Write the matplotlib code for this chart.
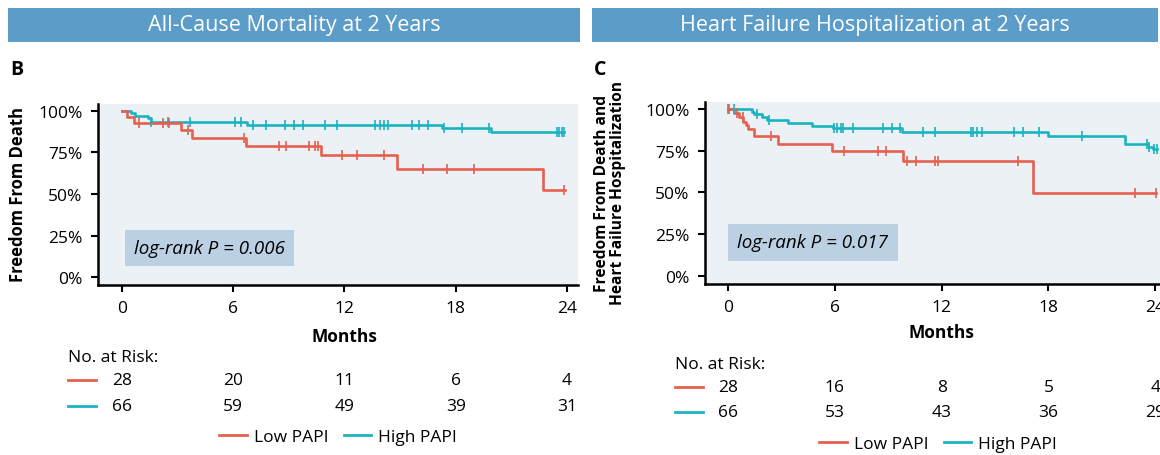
import matplotlib
matplotlib.use("Agg")
import matplotlib.pyplot as plt
import numpy as np
from matplotlib.lines import Line2D
from matplotlib.patches import Rectangle

plt.rcParams['font.family'] = ['Open Sans', 'DejaVu Sans']
plt.rcParams['font.weight'] = 'medium'

RED = '#E5604D'
TEAL = '#1AB3C2'
BG = '#ECF1F5'
BAR = '#5B9CC8'
BOX = '#BBD0E3'

# panel B: all-cause mortality
low_b_t = [0, 0.28, 0.66, 3.16, 3.77, 6.68, 10.73, 14.86, 22.71, 23.9]
low_b_s = [100, 96.4, 92.9, 88.5, 84.0, 79.2, 73.2, 65.2, 52.2, 52.2]
low_b_cens = [0.9, 2.21, 2.52, 3.54, 6.59, 8.46, 8.85, 10.07, 10.43, 10.55,
              11.85, 12.66, 14.14, 16.23, 17.53, 19.0, 23.85]
high_b_t = [0, 0.48, 0.73, 1.41, 1.55, 6.77, 17.25, 19.93, 23.85]
high_b_s = [100, 98.5, 97.0, 95.5, 93.5, 91.5, 89.6, 87.2, 87.2]
high_b_cens = [1.59, 2.48, 3.68, 6.09, 6.41, 7.09, 7.75, 8.78, 9.27, 9.77,
               10.93, 11.59, 13.64, 13.9, 14.13, 14.35, 15.66, 16.02, 16.5,
               17.39, 18.32, 19.8, 23.46, 23.6, 23.73, 23.85]
risk_b_low = [28, 20, 11, 6, 4]
risk_b_high = [66, 59, 49, 39, 31]

# panel C: death or HF hospitalization
low_c_t = [0, 0.35, 0.62, 0.86, 0.99, 1.14, 1.48, 2.79, 5.82, 9.81, 17.15, 24.05]
low_c_s = [100, 97.4, 95.0, 92.4, 90.4, 88.0, 84.0, 79.0, 74.6, 69.0, 49.5, 49.5]
low_c_cens = [0.07, 0.52, 0.82, 2.4, 6.52, 8.44, 8.86, 10.04, 10.56, 11.63,
              11.82, 16.31, 22.87, 24.04]
high_c_t = [0, 1.33, 1.48, 1.89, 2.17, 3.39, 4.7, 5.92, 9.76, 18.0, 22.3,
            23.6, 23.86, 24.1]
high_c_s = [100, 98.2, 96.8, 95.2, 93.6, 91.6, 89.7, 88.4, 86.0, 83.7, 79.0,
            77.4, 76.0, 76.0]
high_c_cens = [0.02, 0.34, 1.61, 2.32, 5.96, 6.1, 6.35, 6.48, 7.04, 8.69,
               9.23, 9.66, 10.94, 11.63, 13.65, 13.75, 13.97, 14.25, 16.09,
               16.59, 17.49, 19.87, 23.52, 23.67, 23.9, 24.1]
risk_c_low = [28, 16, 8, 5, 4]
risk_c_high = [66, 53, 43, 36, 29]

month_ticks = [0, 6, 12, 18, 24]
pct_ticks = [0, 25, 50, 75, 100]
pct_labels = ['0%', '25%', '50%', '75%', '100%']

W, H = 1160, 456


def fy(py):
    """figure fraction from pixel row (top origin)"""
    return 1 - py / H


def km(ax, t, s, cens, color):
    ax.step(t, s, where='post', color=color, lw=1.9, zorder=3)
    idx = np.searchsorted(t, cens, side='right') - 1
    ax.plot(cens, np.array(s)[idx], ls='none', marker='|', ms=7, mew=1.2,
            color=color, zorder=4)


def panel(fig, rect, low, high, risk_low, risk_high, ptext, box_xy,
          rows_y, months_y):
    ax = fig.add_axes(rect)
    ax.set_facecolor(BG)
    km(ax, *high, TEAL)
    km(ax, *low, RED)
    ax.set_xlim(-1.29, 24.6)
    ax.set_ylim(-4.8, 104.2)
    ax.set_xticks(month_ticks)
    ax.set_yticks(pct_ticks)
    ax.set_yticklabels(pct_labels)
    for side in ('top', 'right'):
        ax.spines[side].set_visible(False)
    for side in ('left', 'bottom'):
        ax.spines[side].set_linewidth(1.8)
    ax.tick_params(direction='out', length=5, width=1.5, labelsize=12.5,
                   pad=6)
    ax.text(box_xy[0], box_xy[1], ptext, transform=ax.transAxes,
            fontsize=13.5, style='italic', va='center', ha='left',
            bbox=dict(boxstyle='square,pad=0.5', fc=BOX, ec='none'))
    ax.annotate('Months', xy=(12, fy(months_y)),
                xycoords=('data', 'figure fraction'), ha='center',
                va='center', fontsize=12.5, fontweight='bold',
                annotation_clip=False)
    x0 = ax.get_position().x0
    fig.text(x0 - 30 / W, fy(rows_y[0]), 'No. at Risk:', fontsize=12.5,
             va='center', ha='left')
    for vals, color, ry in ((risk_low, RED, rows_y[1]),
                            (risk_high, TEAL, rows_y[2])):
        fig.add_artist(Line2D([x0 - 30 / W, x0 - 2 / W], [fy(ry)] * 2,
                              color=color, lw=2))
        for m, v in zip(month_ticks, vals):
            ax.annotate(str(v), xy=(m, fy(ry)),
                        xycoords=('data', 'figure fraction'), ha='center',
                        va='center', fontsize=12.5, annotation_clip=False)
    return ax


fig = plt.figure(figsize=(W / 100, H / 100), dpi=100)

# title bars
for x0, x1, title in ((8, 580, 'All-Cause Mortality at 2 Years'),
                      (592, 1158, 'Heart Failure Hospitalization at 2 Years')):
    fig.add_artist(Rectangle((x0 / W, fy(43)), (x1 - x0) / W, 34 / H,
                             transform=fig.transFigure, fc=BAR, ec='none'))
    fig.text((x0 + x1) / 2 / W, fy(26), title, color='white', fontsize=15.5,
             ha='center', va='center')

fig.text(10 / W, fy(70), 'B', fontsize=14, fontweight='bold', va='center')
fig.text(594 / W, fy(70), 'C', fontsize=14, fontweight='bold', va='center')

ax_b = panel(fig, [98 / W, 1 - 286 / H, 480 / W, 181 / H],
             (low_b_t, low_b_s, low_b_cens), (high_b_t, high_b_s, high_b_cens),
             risk_b_low, risk_b_high, 'log-rank P = 0.006', (0.075, 0.205),
             (358, 381, 407), 337)
ax_c = panel(fig, [705 / W, 1 - 285 / H, 461 / W, 182 / H],
             (low_c_t, low_c_s, low_c_cens), (high_c_t, high_c_s, high_c_cens),
             risk_c_low, risk_c_high, 'log-rank P = 0.017', (0.07, 0.23),
             (365, 388, 413), 333)

fig.text(18 / W, fy(195), 'Freedom From Death', rotation=90, fontsize=12,
         fontweight='bold', ha='center', va='center')
fig.text(610 / W, fy(193), 'Freedom From Death and\nHeart Failure Hospitalization',
         rotation=90, fontsize=11.2, fontweight='bold', ha='center',
         va='center', linespacing=1.05)

# legends
for cx, ly in ((338, 438), (938, 445)):
    handles = [Line2D([], [], color=RED, lw=2, label='Low PAPI'),
               Line2D([], [], color=TEAL, lw=2, label='High PAPI')]
    fig.legend(handles=handles, loc='center', bbox_to_anchor=(cx / W, fy(ly)),
               ncol=2, frameon=False, fontsize=12.5, handlelength=1.6,
               handletextpad=0.4, columnspacing=0.9)

fig.savefig('out.png', dpi=100)
